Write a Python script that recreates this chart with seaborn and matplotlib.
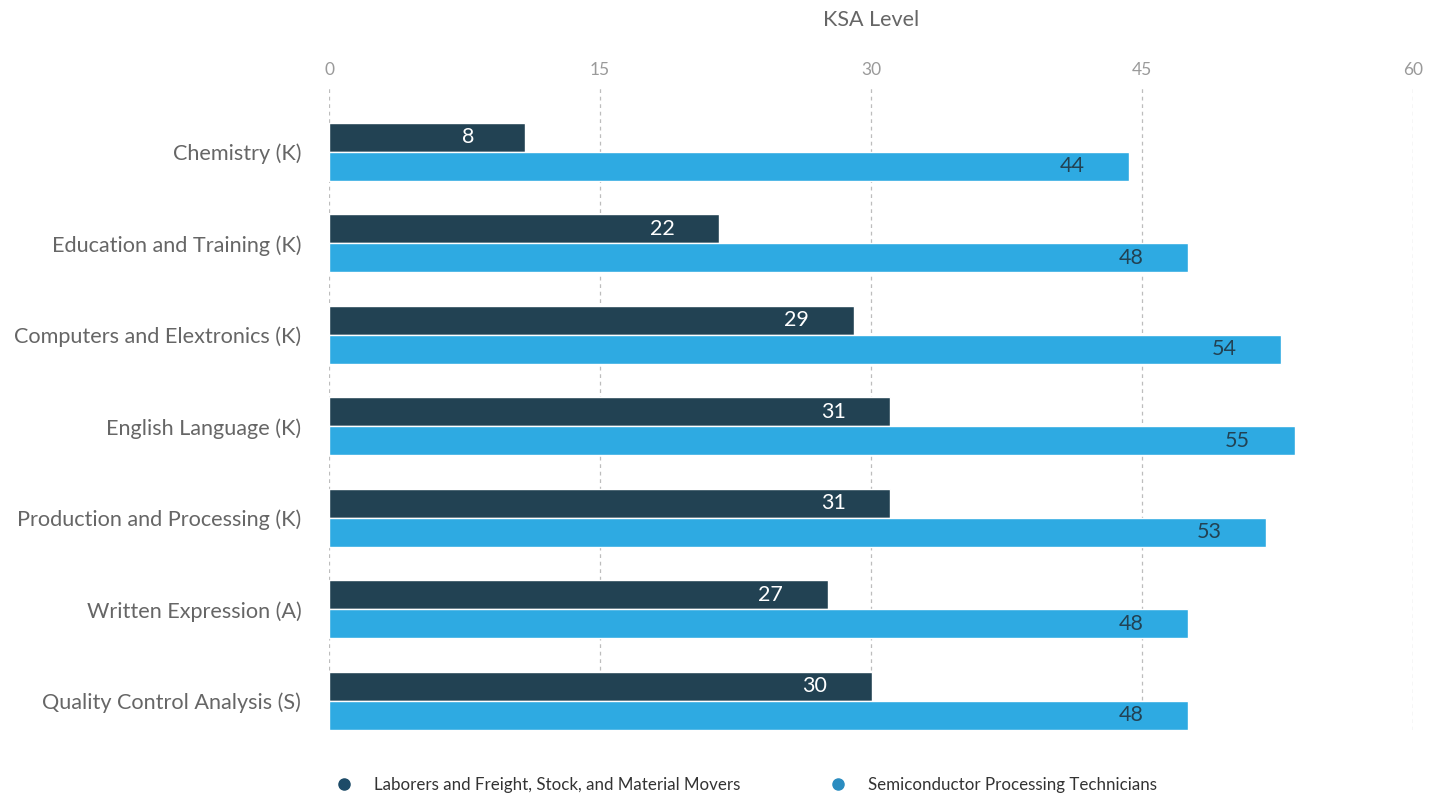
import matplotlib
matplotlib.use("Agg")
import matplotlib.pyplot as plt
from matplotlib.lines import Line2D
import seaborn as sns
import pandas as pd

categories = ["Chemistry (K)", "Education and Training (K)", "Computers and Elextronics (K)",
              "English Language (K)", "Production and Processing (K)", "Written Expression (A)",
              "Quality Control Analysis (S)"]
series_names = ["Laborers and Freight, Stock, and Material Movers",
                "Semiconductor Processing Technicians"]
laborers_values = [10.85, 21.6, 29.05, 31.05, 31.05, 27.6, 30.05]
technicians_values = [44.3, 47.55, 52.7, 53.45, 51.85, 47.55, 47.55]
laborers_labels = ["8", "22", "29", "31", "31", "27", "30"]
technicians_labels = ["44", "48", "54", "55", "53", "48", "48"]
x_ticks = [0, 15, 30, 45, 60]

DARK = "#224253"
LIGHT = "#2eaae2"

df = pd.DataFrame({
    "category": categories * 2,
    "series": [series_names[0]] * len(categories) + [series_names[1]] * len(categories),
    "value": laborers_values + technicians_values,
})

sns.set_theme(style="white")
plt.rcParams["font.family"] = ["Lato", "DejaVu Sans"]

fig = plt.figure(figsize=(14.37, 7.97), dpi=100)
ax = fig.add_axes([0.2290, 0.0841, 0.7543, 0.8093])

sns.barplot(data=df, y="category", x="value", hue="series", order=categories,
            hue_order=series_names, palette=[DARK, LIGHT], width=0.634,
            orient="h", ax=ax, legend=False, saturation=1)

ax.set_xlim(0, 60)
ax.set_ylim(6.317, -0.73)
ax.set_xticks(x_ticks)
ax.xaxis.tick_top()
ax.xaxis.set_label_position("top")
ax.set_xlabel("KSA Level", fontsize=15.5, color="#666666", labelpad=26)
ax.set_ylabel("")
ax.tick_params(axis="x", length=0, pad=5, labelsize=12.5, labelcolor="#9a9a9a")
ax.tick_params(axis="y", length=0, pad=20, labelsize=15.6, labelcolor="#666666")
for s in ax.spines.values():
    s.set_visible(False)
ax.grid(axis="x", linestyle=(0, (3, 3)), color="#bdbdbd", linewidth=0.9)
ax.set_axisbelow(True)

label_sets = [(laborers_labels, "white"), (technicians_labels, DARK)]
for container, (labels, color) in zip(ax.containers, label_sets):
    for bar, lab in zip(container, labels):
        y = bar.get_y() + bar.get_height() / 2
        xend = bar.get_x() + bar.get_width()
        ax.annotate(lab, xy=(xend, y), xytext=(-41, 0), textcoords="offset points",
                    ha="center", va="center", fontsize=15.5, color=color)

handles = [Line2D([], [], marker="o", linestyle="none", markersize=8,
                  markerfacecolor=c, markeredgecolor=c) for c in ["#1d4b68", "#2a8cc0"]]
fig.legend(handles, series_names, loc="center left", bbox_to_anchor=(0.217, 0.015),
           ncol=2, frameon=False, fontsize=12.2, labelcolor="#333333",
           handletextpad=0.75, columnspacing=4.8)

fig.savefig("out.png", dpi=100, facecolor="white")
